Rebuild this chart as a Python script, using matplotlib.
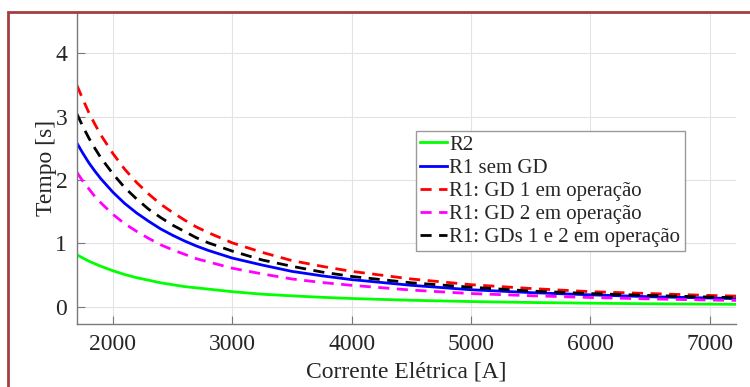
import numpy as np
import matplotlib
matplotlib.use("Agg")
from matplotlib import pyplot as plt
from matplotlib.patches import Rectangle

plt.rcParams['font.family'] = ['Liberation Serif', 'DejaVu Serif']

# corrente (A) e tempos (s)
corrente = [1700, 1750, 1800, 1850, 1900, 2000, 2100, 2200, 2300, 2400,
            2500, 2600, 2700, 2800, 3000, 3250, 3500, 3750, 4000, 4500,
            5000, 5500, 6000, 6500, 7000, 7220]
r2 = [0.82, 0.77, 0.72, 0.68, 0.64, 0.57, 0.51, 0.46, 0.42, 0.38,
      0.35, 0.32, 0.30, 0.28, 0.24, 0.20, 0.174, 0.151, 0.132, 0.104,
      0.084, 0.069, 0.058, 0.049, 0.043, 0.040]
r1_sem_gd = [2.58, 2.42, 2.27, 2.14, 2.02, 1.81, 1.63, 1.48, 1.35, 1.23,
             1.13, 1.04, 0.96, 0.89, 0.77, 0.66, 0.56, 0.49, 0.43, 0.34,
             0.27, 0.225, 0.19, 0.16, 0.14, 0.13]
r1_gd1 = [3.49, 3.27, 3.06, 2.88, 2.71, 2.42, 2.17, 1.96, 1.78, 1.62,
          1.49, 1.37, 1.26, 1.17, 1.01, 0.86, 0.73, 0.64, 0.56, 0.44,
          0.35, 0.29, 0.24, 0.21, 0.18, 0.17]
r1_gd2 = [2.12, 1.98, 1.86, 1.74, 1.64, 1.46, 1.31, 1.19, 1.08, 0.98,
          0.90, 0.83, 0.76, 0.71, 0.61, 0.52, 0.44, 0.385, 0.34, 0.265,
          0.21, 0.176, 0.148, 0.126, 0.108, 0.102]
r1_gds12 = [3.04, 2.84, 2.66, 2.50, 2.35, 2.10, 1.88, 1.70, 1.54, 1.41,
            1.29, 1.19, 1.09, 1.01, 0.88, 0.74, 0.64, 0.55, 0.48, 0.38,
            0.31, 0.25, 0.21, 0.18, 0.155, 0.145]

labels = ['R2', 'R1 sem GD', 'R1: GD 1 em operação',
          'R1: GD 2 em operação', 'R1: GDs 1 e 2 em operação']
xticks = [2000, 3000, 4000, 5000, 6000, 7000]
yticks = [0, 1, 2, 3, 4]

txt = '#262626'
fig = plt.figure(figsize=(7.5, 3.87), dpi=100)
ax = fig.add_axes([77/750, 1 - 324/387, (736-77)/750, (324-12)/387])

lw = 2.0
dash = (0, (4, 2.7))
ax.plot(corrente, r2, color=(0, 1, 0), lw=lw, label=labels[0])
ax.plot(corrente, r1_sem_gd, color=(0, 0, 1), lw=lw, label=labels[1])
ax.plot(corrente, r1_gd1, color=(1, 0, 0), lw=lw, ls=dash, label=labels[2])
ax.plot(corrente, r1_gd2, color=(1, 0, 1), lw=lw, ls=dash, label=labels[3])
ax.plot(corrente, r1_gds12, color='k', lw=lw, ls=dash, label=labels[4])

ax.set_xlim(1700, 7220)
ax.set_ylim(-0.27, 4.65)
ax.set_xticks(xticks)
ax.set_yticks(yticks)
ax.grid(True, color='#e3e3e3', lw=0.8)
ax.set_axisbelow(True)
for s in ['top', 'right']:
    ax.spines[s].set_visible(False)
for s in ['left', 'bottom']:
    ax.spines[s].set_color('#7a7a7a')
    ax.spines[s].set_linewidth(1.0)
ax.tick_params(direction='in', length=6, color='#7a7a7a', labelsize=17,
               labelcolor=txt, pad=7)
ax.set_xlabel('Corrente Elétrica [A]', fontsize=17, color=txt, labelpad=5)
ax.set_ylabel('Tempo [s]', fontsize=17, color=txt, labelpad=-1)

leg = ax.legend(loc='upper left', bbox_to_anchor=(416/750, 1 - 131/387),
                bbox_transform=fig.transFigure, borderaxespad=0,
                fontsize=15, handlelength=1.3, handletextpad=0.1,
                labelspacing=0.17, borderpad=0.2, fancybox=False,
                framealpha=1)
leg.get_frame().set_edgecolor('#9a9a9a')
leg.get_frame().set_linewidth(1.0)
for t in leg.get_texts():
    t.set_color(txt)

# moldura vermelha
fig.patches.append(Rectangle((8/750, -0.1), 1.2, 1.1 - 12/387,
                             transform=fig.transFigure, fill=False,
                             edgecolor='#a04040', lw=2.0, clip_on=False))

fig.savefig('out.png', dpi=100)
